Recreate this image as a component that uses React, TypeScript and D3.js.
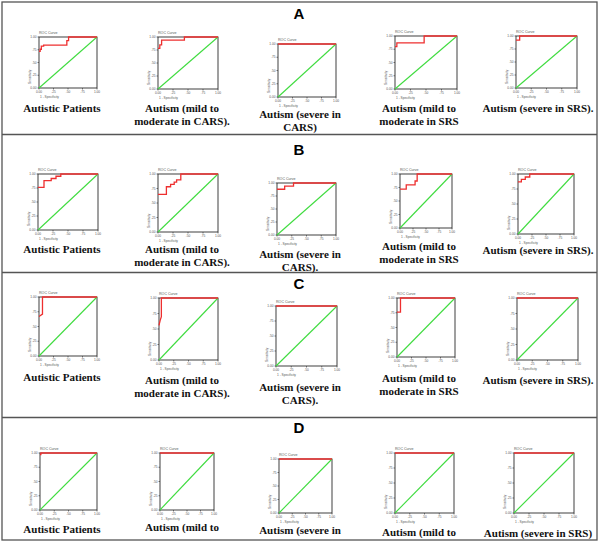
import React from "react";
import * as d3 from "d3";

// ---- data ----
const rowLetters = ["A", "B", "C", "D"];

const labelsA = [
  ["Autistic Patients"],
  ["Autism (mild to", "moderate in CARS)."],
  ["Autism (severe in", "CARS)"],
  ["Autism (mild to", "moderate in SRS"],
  ["Autism (severe in SRS)."],
];
const labelsB = [
  ["Autistic Patients"],
  ["Autism (mild to", "moderate in CARS)."],
  ["Autism (severe in", "CARS)."],
  ["Autism (mild to", "moderate in SRS"],
  ["Autism (severe in SRS)."],
];
const labelsC = [
  ["Autistic Patients"],
  ["Autism (mild to", "moderate in CARS)."],
  ["Autism (severe in", "CARS)."],
  ["Autism (mild to", "moderate in SRS"],
  ["Autism (severe in SRS)."],
];
const labelsD = [
  ["Autistic Patients"],
  ["Autism (mild to"],
  ["Autism (severe in"],
  ["Autism (mild to"],
  ["Autism (severe in SRS)"],
];

// ROC curves: [1 - specificity, sensitivity]
const rocA = [
  [[0, 0.72], [0.02, 0.72], [0.02, 0.76], [0.04, 0.76], [0.04, 0.82], [0.08, 0.82], [0.08, 0.84], [0.48, 0.84], [0.48, 0.93], [0.51, 0.93], [0.51, 1], [1, 1]],
  [[0, 0.78], [0.03, 0.78], [0.03, 0.85], [0.06, 0.85], [0.06, 0.94], [0.44, 0.94], [0.44, 1], [1, 1]],
  [[0, 1], [1, 1]],
  [[0, 0.8], [0.03, 0.8], [0.03, 0.87], [0.47, 0.87], [0.47, 1], [1, 1]],
  [[0, 0.92], [0.06, 0.92], [0.06, 1], [1, 1]],
];
const rocB = [
  [[0, 0.76], [0.1, 0.76], [0.1, 0.88], [0.22, 0.88], [0.22, 0.92], [0.3, 0.92], [0.3, 0.96], [0.38, 0.96], [0.38, 1], [1, 1]],
  [[0, 0.65], [0.14, 0.65], [0.14, 0.78], [0.21, 0.78], [0.21, 0.82], [0.27, 0.82], [0.27, 0.86], [0.31, 0.86], [0.31, 0.9], [0.38, 0.9], [0.38, 1], [1, 1]],
  [[0, 0.88], [0.13, 0.88], [0.13, 0.94], [0.28, 0.94], [0.28, 1], [1, 1]],
  [[0, 0.72], [0.12, 0.72], [0.12, 0.8], [0.29, 0.8], [0.29, 0.87], [0.33, 0.87], [0.33, 1], [1, 1]],
  [[0, 0.87], [0.06, 0.87], [0.06, 0.91], [0.13, 0.91], [0.13, 0.95], [0.21, 0.95], [0.21, 1], [1, 1]],
];
const rocC = [
  [[0, 0.67], [0.06, 0.71], [0.06, 1], [1, 1]],
  [[0, 0.56], [0.02, 0.64], [0.04, 0.7], [0.04, 1], [1, 1]],
  [[0, 1], [1, 1]],
  [[0, 0.76], [0.06, 0.76], [0.06, 1], [1, 1]],
  [[0, 1], [1, 1]],
];
const rocD = [
  [[0, 0.97], [0.015, 0.97], [0.015, 1], [1, 1]],
  [[0, 1], [1, 1]],
  [[0, 1], [1, 1]],
  [[0, 1], [1, 1]],
  [[0, 1], [1, 1]],
];
const reference = [[0, 0], [1, 1]];
const tickValues = [0, 0.25, 0.5, 0.75, 1];
const tickLabels = ["0.00", ".25", ".50", ".75", "1.00"];

// ---- layout ----
const rowLabels = [labelsA, labelsB, labelsC, labelsD];
const rowCurves = [rocA, rocB, rocC, rocD];
const BOXES = [
  [[39, 37, 97, 88], [158, 37, 218, 89], [278, 44, 336, 97], [395, 36, 457, 89], [516, 36, 577, 88]],
  [[38, 174, 98, 230], [158, 174, 218, 232], [277, 183, 336, 235], [400, 174, 452, 228], [518, 174, 574, 234]],
  [[39, 297, 97, 356], [159, 298, 218, 360], [276, 306, 337, 366], [397, 298, 455, 357], [517, 298, 578, 360]],
  [[40, 453, 97, 510], [160, 453, 214, 510], [279, 459, 332, 513], [395, 453, 454, 513], [514, 453, 574, 513]],
];
const LABEL_X = [62, 182, 300, 419, 538];
const LABEL_Y = [
  [112, 112, 118, 112, 112],
  [253, 253, 258, 250, 254],
  [381, 384, 391, 382, 384],
  [533, 531, 534, 536, 537],
];
const LETTER_Y = [19, 155, 289, 433];
const SEPARATORS = [134.5, 272.5, 417.5];

const RED = "#ee2f2f";
const GREEN = "#3fdc3f";
const FRAME = "#2a2a2a";
const SERIF = "'Liberation Serif', 'Times New Roman', Times, serif";
const SANS = "'Liberation Sans', Arial, sans-serif";

function Panel({ box, curve, label, lx, ly }) {
  const [x0, y0, x1, y1] = box;
  const x = d3.scaleLinear().domain([0, 1]).range([x0, x1]);
  const y = d3.scaleLinear().domain([0, 1]).range([y1, y0]);
  const line = d3.line().x((d) => x(d[0])).y((d) => y(d[1]));
  const tiny = { fontFamily: SANS, fontSize: 3.2, fill: "#555" };
  return (
    <g>
      <text x={x0} y={y0 - 3} style={{ ...tiny, fontSize: 3.6 }}>ROC Curve</text>
      <rect x={x0} y={y0} width={x1 - x0} height={y1 - y0} fill="none" stroke={FRAME} strokeWidth={0.9} />
      {tickValues.map((t, i) => (
        <g key={"t" + i}>
          <line x1={x0 - 1.5} x2={x0} y1={y(t)} y2={y(t)} stroke={FRAME} strokeWidth={0.6} />
          <line x1={x(t)} x2={x(t)} y1={y1} y2={y1 + 1.5} stroke={FRAME} strokeWidth={0.6} />
          <text x={x0 - 2.5} y={y(t) + 1} textAnchor="end" style={tiny}>{tickLabels[i]}</text>
          <text x={x(t)} y={y1 + 4.5} textAnchor="middle" style={tiny}>{tickLabels[i]}</text>
        </g>
      ))}
      <text transform={`translate(${x0 - 8},${y1 - 4}) rotate(-90)`} style={tiny}>Sensitivity</text>
      <text x={x0 + 1} y={y1 + 10} style={tiny}>1 - Specificity</text>
      <path d={line(reference)} fill="none" stroke={GREEN} strokeWidth={1.1} />
      <path d={line(curve)} fill="none" stroke={RED} strokeWidth={1.3} />
      <text textAnchor="middle" style={{ fontFamily: SERIF, fontWeight: 700, fontSize: 11, fill: "#111" }}>
        {label.map((s, i) => (
          <tspan key={i} x={lx} y={ly + i * 12.5}>{s}</tspan>
        ))}
      </text>
    </g>
  );
}

export default function App() {
  return (
    <svg width={600} height={542} style={{ position: "absolute", left: 0, top: 0, background: "#fff" }}>
      <rect x={0} y={0} width={600} height={542} fill="#fff" />
      <rect x={2} y={2} width={595} height={538} fill="none" stroke="#555" strokeWidth={1.3} />
      {SEPARATORS.map((s, i) => (
        <line key={i} x1={2} x2={597} y1={s} y2={s} stroke="#555" strokeWidth={1.3} />
      ))}
      {rowLetters.map((L, r) => (
        <g key={L}>
          <text x={299} y={LETTER_Y[r]} textAnchor="middle" style={{ fontFamily: SANS, fontWeight: 700, fontSize: 15, fill: "#000" }}>{L}</text>
          {BOXES[r].map((b, c) => (
            <Panel key={c} box={b} curve={rowCurves[r][c]} label={rowLabels[r][c]} lx={LABEL_X[c]} ly={LABEL_Y[r][c]} />
          ))}
        </g>
      ))}
    </svg>
  );
}
